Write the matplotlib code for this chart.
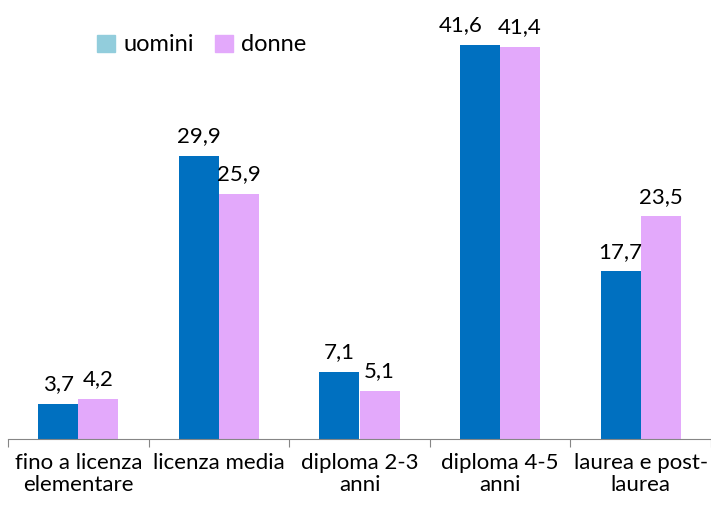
import matplotlib
matplotlib.use("Agg")
import matplotlib.pyplot as plt
import numpy as np

categories = ["fino a licenza\nelementare", "licenza media", "diploma 2-3\nanni", "diploma 4-5\nanni", "laurea e post-\nlaurea"]
uomini = [3.7, 29.9, 7.1, 41.6, 17.7]
donne = [4.2, 25.9, 5.1, 41.4, 23.5]
labels_u = ["3,7", "29,9", "7,1", "41,6", "17,7"]
labels_d = ["4,2", "25,9", "5,1", "41,4", "23,5"]

plt.rcParams['font.family'] = ['Lato', 'DejaVu Sans']

W, H = 711, 511
fig = plt.figure(figsize=(W/100, H/100), dpi=100)
ax = fig.add_axes([8/W, (H-439)/H, 703/W, 439/H])

x = np.arange(len(categories))
bw = 0.285
blue = "#0070C0"
pink = "#E3A9FB"
legend_blue = "#92CDDC"
ax.bar(x - bw/2, uomini, bw, color=blue)
ax.bar(x + bw/2, donne, bw, color=pink)

for i, (xi, v, l) in enumerate(zip(x, uomini, labels_u)):
    dx = -14 if i == 3 else 0  # avoid overlap with neighbouring label
    ax.annotate(l, (xi - bw/2, v), xytext=(dx, 7), textcoords="offset points",
                ha="center", va="bottom", fontsize=16)
for xi, v, l in zip(x, donne, labels_d):
    ax.annotate(l, (xi + bw/2, v), xytext=(0, 7), textcoords="offset points",
                ha="center", va="bottom", fontsize=16)

ax.set_xlim(-0.5, len(categories) - 0.5)
ax.set_ylim(0, 46.36)
for s in ["top", "right", "left"]:
    ax.spines[s].set_visible(False)
ax.spines["bottom"].set_color("#868686")
ax.set_yticks([])
ax.set_xticks(np.arange(-0.5, len(categories), 1.0), minor=False)
ax.set_xticklabels([])
ax.tick_params(axis="x", length=6, color="#868686", direction="out")
ax.set_xticks(x, minor=True)
ax.set_xticklabels(categories, minor=True, fontsize=16, linespacing=1.15)
ax.tick_params(axis="x", which="minor", length=0, pad=10)

from matplotlib.patches import Patch
handles = [Patch(color=legend_blue, label="uomini"), Patch(color=pink, label="donne")]
ax.legend(handles=handles, loc="upper left", bbox_to_anchor=(80/703, 1 - 25/439), ncol=2,
          frameon=False, fontsize=17, handlelength=0.75, handleheight=0.75,
          handletextpad=0.35, columnspacing=0.9, borderaxespad=0)

fig.savefig("out.png", dpi=100)
